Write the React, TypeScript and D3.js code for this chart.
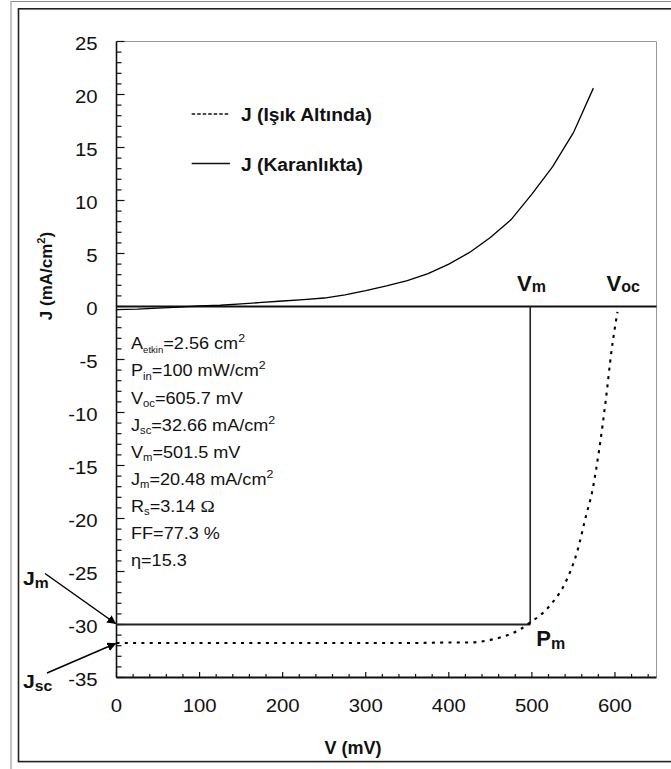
import React from "react";
import * as d3 from "d3";

// ---- data ----
const darkV = [0, 25, 50, 75, 100, 125, 150, 175, 200, 225, 250, 275, 300, 325, 350, 375, 400, 425, 450, 475, 500, 525, 550, 574];
const darkJ = [-0.3, -0.25, -0.15, -0.05, 0.05, 0.12, 0.25, 0.38, 0.52, 0.65, 0.8, 1.1, 1.5, 1.95, 2.45, 3.1, 4.0, 5.1, 6.5, 8.2, 10.6, 13.2, 16.4, 20.6];
const lightV = [0, 50, 100, 150, 200, 250, 300, 350, 400, 425, 450, 467, 485, 498, 512, 524, 540, 555, 565, 573, 581, 589, 596, 603];
const lightJ = [-31.75, -31.75, -31.75, -31.75, -31.75, -31.75, -31.75, -31.75, -31.7, -31.7, -31.45, -31.1, -30.5, -29.8, -29.0, -28.0, -26.1, -23.0, -19.8, -17.3, -13.5, -8.8, -4.1, -0.5];
const xTicks = [0, 100, 200, 300, 400, 500, 600];
const yTicks = [-35, -30, -25, -20, -15, -10, -5, 0, 5, 10, 15, 20, 25];
const Vm = 498;
const JmDrawn = -30;
const JscDrawn = -31.75;

const legendItems = [
  { label: "J (Işık Altında)", dash: "3.5,2" },
  { label: "J (Karanlıkta)", dash: "none" },
];

const infoLines: [string, string, string, string?][] = [
  ["A", "etkin", "=2.56 cm", "2"],
  ["P", "in", "=100 mW/cm", "2"],
  ["V", "oc", "=605.7 mV"],
  ["J", "sc", "=32.66 mA/cm", "2"],
  ["V", "m", "=501.5 mV"],
  ["J", "m", "=20.48 mA/cm", "2"],
  ["R", "s", "=3.14 ", "Ω"],
  ["FF=77.3 %", "", ""],
  ["η=15.3", "", ""],
];

const FONT = "'Liberation Sans', Arial, Helvetica, sans-serif";

function T(props: any) {
  const { x, y, sx = 1.12, children, ...rest } = props;
  return (
    <g transform={`translate(${x},${y}) scale(${sx},1)`}>
      <text x={0} y={0} fill="#111" {...rest}>
        {children}
      </text>
    </g>
  );
}

export default function App() {
  const W = 671;
  const H = 769;
  const x = d3.scaleLinear().domain([0, 650]).range([116.5, 656.5]);
  const y = d3.scaleLinear().domain([-35, 25]).range([677.5, 41.5]);

  const darkData = darkV.map((v, i) => [v, darkJ[i]] as [number, number]);
  const lightData = lightV.map((v, i) => [v, lightJ[i]] as [number, number]);
  const lineLin = d3.line<[number, number]>().x((d) => x(d[0])).y((d) => y(d[1]));
  const lineSmooth = d3
    .line<[number, number]>()
    .x((d) => x(d[0]))
    .y((d) => y(d[1]))
    .curve(d3.curveMonotoneX);

  const yMinor = d3.range(-35, 26, 1);
  const xMinor = d3.range(0, 650, 20);

  const x0 = x(0);
  const yB = y(-35);

  return (
    <svg
      width={W}
      height={H}
      style={{ position: "absolute", left: 0, top: 0, background: "#fff" }}
      fontFamily={FONT}
    >
      <defs>
        <marker id="arr" viewBox="0 0 10 10" refX="9" refY="5" markerWidth="9" markerHeight="9" markerUnits="userSpaceOnUse" orient="auto">
          <path d="M0,0 L10,5 L0,10 z" fill="#000" />
        </marker>
      </defs>
      <rect x={0} y={0} width={W} height={H} fill="#fff" />
      {/* frames */}
      <rect x={11} y={1.5} width={720} height={820} fill="none" stroke="#8a8a8a" strokeWidth={1} />
      <rect x={18.5} y={8.8} width={720} height={752.8} fill="none" stroke="#222" strokeWidth={1.6} />

      {/* plot frame top/right */}
      <line x1={x0} x2={x(650)} y1={y(25)} y2={y(25)} stroke="#999" strokeWidth={1} />
      <line x1={x(650)} x2={x(650)} y1={y(25)} y2={yB} stroke="#999" strokeWidth={1} />

      {/* y axis */}
      <line x1={x0} x2={x0} y1={y(25)} y2={yB} stroke="#111" strokeWidth={1.6} />
      {yMinor.map((t) => (
        <line key={"ym" + t} x1={x0} x2={x0 + (t % 5 === 0 ? 8 : 5)} y1={y(t)} y2={y(t)} stroke="#111" strokeWidth={1.2} />
      ))}
      {yTicks.map((t) => (
        <T key={"yl" + t} x={97.5} y={y(t) + 8.8} fontSize={18} textAnchor="end" sx={1.13}>
          {t}
        </T>
      ))}

      {/* x axis */}
      <line x1={x0} x2={x(650)} y1={yB} y2={yB} stroke="#111" strokeWidth={2} />
      {xMinor.map((t) => (
        <line key={"xm" + t} x1={x(t)} x2={x(t)} y1={yB} y2={yB - (t % 100 === 0 ? 5.5 : 3.5)} stroke="#111" strokeWidth={1.2} />
      ))}
      {xTicks.map((t) => (
        <T key={"xl" + t} x={x(t)} y={712} fontSize={18} textAnchor="middle" sx={1.13}>
          {t}
        </T>
      ))}

      {/* axis titles */}
      <text x={353} y={754} fontSize={18} fontWeight="bold" textAnchor="middle" fill="#111">
        V (mV)
      </text>
      <text transform="translate(52,276) rotate(-90)" fontSize={17} fontWeight="bold" textAnchor="middle" fill="#111">
        J (mA/cm<tspan fontSize={11} dy={-7}>2</tspan>
        <tspan dy={7}>)</tspan>
      </text>

      {/* zero line */}
      <line x1={x0} x2={x(650)} y1={y(0)} y2={y(0)} stroke="#111" strokeWidth={2} />
      {/* max power rectangle */}
      <line x1={x(Vm)} x2={x(Vm)} y1={y(0)} y2={y(JmDrawn)} stroke="#222" strokeWidth={1.6} />
      <line x1={x0} x2={x(Vm)} y1={y(JmDrawn)} y2={y(JmDrawn)} stroke="#222" strokeWidth={1.8} />

      {/* curves */}
      <path d={lineLin(darkData) || ""} fill="none" stroke="#000" strokeWidth={1.3} />
      <path d={lineSmooth(lightData) || ""} fill="none" stroke="#000" strokeWidth={2.1} strokeDasharray="3,5.3" />

      {/* legend */}
      {legendItems.map((it, i) => (
        <g key={it.label}>
          <line x1={191.7} x2={230} y1={114 + i * 49.5} y2={114 + i * 49.5} stroke="#111" strokeWidth={1.3} strokeDasharray={it.dash} />
          <T x={241} y={121 + i * 50} fontSize={18} fontWeight="bold" sx={1.07}>
            {it.label}
          </T>
        </g>
      ))}

      {/* info block */}
      {infoLines.map((l, i) => {
        const yy = 349.3 + i * 27.1;
        return (
          <T key={i} x={131} y={yy} fontSize={16} sx={1.13}>
            {l[0]}
            {l[1] ? (
              <tspan fontSize={l[1] === "etkin" ? 8.5 : 10} dy={3.5}>
                {l[1]}
              </tspan>
            ) : null}
            {l[2] ? <tspan dy={l[1] ? -3.5 : 0}>{l[2]}</tspan> : null}
            {l[3] === "2" ? (
              <tspan fontSize={11} dy={-7}>
                2
              </tspan>
            ) : null}
            {l[3] === "Ω" ? (
              <tspan fontFamily="'Liberation Serif', 'Times New Roman', serif" fontSize={17}>
                Ω
              </tspan>
            ) : null}
          </T>
        );
      })}

      {/* annotations */}
      <T x={517} y={291} fontSize={22} fontWeight="bold" sx={1.0}>
        V<tspan fontSize={16} dy={1}>m</tspan>
      </T>
      <T x={606.5} y={291} fontSize={22} fontWeight="bold" sx={1.0}>
        V<tspan fontSize={16} dy={1}>oc</tspan>
      </T>
      <T x={x(Vm) + 6} y={646} fontSize={22} fontWeight="bold" sx={1.0}>
        P<tspan fontSize={16} dy={3}>m</tspan>
      </T>
      <T x={23} y={585} fontSize={19} fontWeight="bold" sx={1.12}>
        J<tspan fontSize={14} dy={3}>m</tspan>
      </T>
      <T x={23} y={687.5} fontSize={19} fontWeight="bold" sx={1.12}>
        J<tspan fontSize={14} dy={3}>sc</tspan>
      </T>
      <line x1={45} y1={573.5} x2={x0 - 1} y2={y(JmDrawn) - 1} stroke="#000" strokeWidth={1.5} markerEnd="url(#arr)" />
      <line x1={47} y1={673} x2={x0 - 1} y2={y(JscDrawn) + 0.5} stroke="#000" strokeWidth={1.5} markerEnd="url(#arr)" />
    </svg>
  );
}
